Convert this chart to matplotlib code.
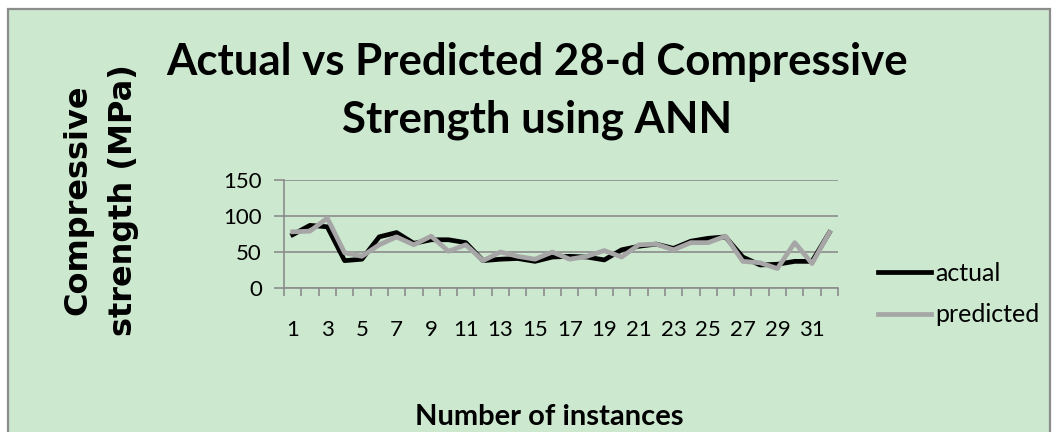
import matplotlib
matplotlib.use("Agg")
import matplotlib.pyplot as plt
from matplotlib.patches import Rectangle
import numpy as np

instances = list(range(1, 33))
actual = [74, 87, 85, 38, 40, 71, 77, 62, 67, 67, 63, 38, 40, 41, 37, 43,
          44, 43, 39, 53, 58, 61, 55, 65, 69, 71, 43, 32, 33, 37, 37, 77]
predicted = [78, 79, 97, 49, 44, 60, 71, 60, 72, 51, 60, 38, 50, 44, 40, 50,
             40, 44, 52, 43, 60, 61, 53, 63, 63, 72, 37, 35, 27, 63, 34, 77]
y_ticks = [0, 50, 100, 150]

W, H = 1057, 432
bg = "#cce8cf"
grid_gray = "#8c8c8c"

fig = plt.figure(figsize=(W / 100, H / 100), dpi=100)
fig.patch.set_facecolor("white")
fig.patches.append(Rectangle((8 / W, -0.01), 1042 / W, 1.01 - 9 / H,
                             transform=fig.transFigure, facecolor=bg,
                             edgecolor=grid_gray, linewidth=1.6, zorder=-10))

ax = fig.add_axes([284 / W, 1 - 288 / H, 554 / W, 108 / H])
ax.patch.set_alpha(0)

ax.plot(instances, actual, color="black", linewidth=3.4, label="actual")
ax.plot(instances, predicted, color="#a6a6a6", linewidth=3.4, label="predicted")

ax.set_xlim(0.5, 32.5)
ax.set_ylim(0, 150)
ax.set_yticks(y_ticks)
ax.yaxis.grid(True, color=grid_gray, linewidth=1.2)
ax.set_axisbelow(True)

ax.set_xticks(instances[::2])
ax.set_xticks(np.arange(0.5, 33, 1), minor=True)
ax.tick_params(axis="x", which="major", length=0, pad=23, labelsize=16)
ax.tick_params(axis="x", which="minor", length=6, width=1.2, color=grid_gray, direction="out")
ax.tick_params(axis="y", length=7, width=1.2, color=grid_gray, labelsize=16, pad=9)
for lab in ax.get_xticklabels() + ax.get_yticklabels():
    lab.set_family("Lato")

for s in ["top", "right"]:
    ax.spines[s].set_visible(False)
for s in ["left", "bottom"]:
    ax.spines[s].set_color(grid_gray)
    ax.spines[s].set_linewidth(1.2)

fig.text(537 / W, 1 - 75 / H, "Actual vs Predicted 28-d Compressive", ha="center", va="baseline",
         fontsize=31.5, fontweight="bold", family="Lato")
fig.text(537 / W, 1 - 133 / H, "Strength using ANN", ha="center", va="baseline",
         fontsize=31.5, fontweight="bold", family="Lato")
fig.text(101 / W, 1 - 200 / H, "Compressive\nstrength (MPa)", ha="center", va="center",
         rotation=90, fontsize=23, fontweight="bold", family="DejaVu Sans", linespacing=1.6)
fig.text(549 / W, 1 - 425 / H, "Number of instances", ha="center", va="baseline",
         fontsize=21, fontweight="bold", family="Lato")

ax.legend(loc="center left", bbox_to_anchor=(878 / W, 1 - 294 / H), bbox_transform=fig.transFigure,
          frameon=False, borderpad=0, borderaxespad=0, handlelength=2.1, handletextpad=0.2,
          labelspacing=0.75, prop={"family": "Lato", "size": 18})

fig.savefig("out.png", dpi=100, facecolor=fig.get_facecolor())
